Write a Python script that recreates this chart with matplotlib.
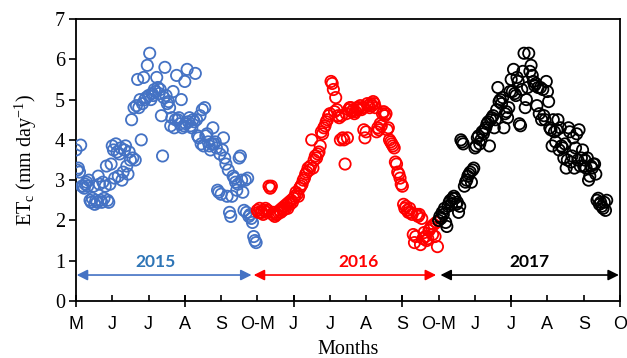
import matplotlib
matplotlib.use("Agg")
import matplotlib.pyplot as plt
import numpy as np
import pandas as pd

plt.rcParams['mathtext.fontset'] = 'custom'
plt.rcParams['mathtext.rm'] = 'Liberation Serif'
plt.rcParams['mathtext.it'] = 'Liberation Serif:italic'

# daily crop ET (mm/day), May 1 onward, one list per season
et_2015 = [
    # May
    3.75, 3.25, 3.3, 3.2, 3.87, 2.85, 2.85, 2.8, 2.9, 2.95, 2.85, 3.0, 2.5, 2.45, 2.55, 2.85,
    2.4, 2.5, 2.45, 3.1, 2.9, 2.5, 2.45, 2.95, 2.55, 2.85, 3.35, 2.5, 2.45, 2.9, 3.4,
    # Jun
    3.85, 3.75, 3.05, 3.9, 3.7, 3.1, 3.65, 3.8, 3.0, 3.2, 3.75, 3.85, 3.35, 3.15, 3.7,
    3.5, 4.5, 3.55, 4.8, 3.5, 4.85, 5.5, 4.8, 5.0, 4.0, 4.9, 5.55, 5.0, 5.05, 5.85,
    # Jul
    5.1, 6.15, 5.0, 5.15, 5.1, 5.25, 5.2, 5.55, 5.3, 5.15, 5.25, 4.6, 3.6, 5.05, 5.8, 5.1,
    4.9, 4.95, 4.8, 4.35, 4.55, 5.2, 4.3, 4.5, 5.6, 4.5, 4.55, 4.4, 5.0, 4.3, 4.35,
    # Aug
    5.45, 4.4, 5.75, 4.45, 4.55, 4.35, 4.3, 4.5, 4.45, 5.65, 4.5, 4.1, 4.05, 4.6, 3.9, 4.75,
    3.85, 4.8, 4.1, 4.15, 3.95, 3.85, 3.75, 3.9, 4.3, 3.9, 3.95, 3.8, 2.75, 2.7, 3.65,
    # Sep
    2.65, 3.75, 4.05, 3.55, 3.4, 2.6, 3.25, 2.2, 2.1, 2.6, 3.1, 3.05, 2.95, 2.75, 2.9,
    3.55, 3.6, 3.0, 2.7, 2.25, 3.0, 2.2, 3.05, 2.1, 2.15, 2.05, 1.95, 1.6, 1.5, 1.45,
]
et_2016 = [
    # May
    2.25, 2.2, 2.3, 2.2, 2.2, 2.15, 2.25, 2.3, 2.2, 2.25, 2.85, 2.8, 2.85, 2.15, 2.2, 2.1,
    2.15, 2.15, 2.2, 2.25, 2.2, 2.3, 2.25, 2.35, 2.3, 2.4, 2.3, 2.45, 2.4, 2.5, 2.45,
    # Jun
    2.55, 2.6, 2.7, 2.65, 2.6, 2.8, 2.85, 2.9, 3.0, 3.05, 3.15, 3.2, 3.3, 3.25, 3.35,
    4.0, 3.3, 3.5, 3.6, 3.55, 3.65, 3.7, 3.85, 4.2, 4.15, 4.3, 4.35, 4.45, 4.5, 4.6,
    # Jul
    4.65, 5.45, 5.4, 5.25, 4.7, 5.05, 4.75, 4.6, 4.55, 4.0, 4.6, 4.05, 4.0, 3.4, 4.65, 4.05,
    4.75, 4.8, 4.8, 4.7, 4.75, 4.65, 4.7, 4.8, 4.75, 4.8, 4.85, 4.75, 4.8, 4.25, 4.05,
    # Aug
    4.2, 4.9, 4.85, 4.8, 4.9, 4.85, 4.95, 4.9, 4.8, 4.2, 4.3, 4.25, 4.4, 4.35, 4.65, 4.7,
    4.6, 4.65, 4.25, 4.3, 4.0, 3.95, 3.9, 3.85, 3.8, 3.45, 3.4, 3.2, 3.15, 3.05, 2.9,
    # Sep
    2.85, 2.4, 2.3, 2.35, 2.25, 2.2, 2.3, 2.2, 2.15, 1.65, 1.45, 1.6, 2.15, 2.1, 2.15,
    1.4, 2.05, 1.55, 1.7, 1.6, 1.5, 1.55, 1.75, 1.8, 1.85, 1.65, 1.9, 1.6, 1.95, 1.35,
]
et_2017 = [
    # May
    2.0, 2.1, 2.05, 2.2, 2.15, 2.3, 1.95, 1.85, 2.35, 2.45, 2.5, 2.4, 2.55, 2.6, 2.55, 2.4,
    2.45, 2.2, 2.35, 4.0, 3.95, 3.9, 2.85, 2.95, 3.0, 3.1, 3.15, 3.2, 2.95, 3.25, 3.3,
    # Jun
    3.8, 3.85, 4.05, 4.1, 3.9, 4.0, 4.2, 4.15, 4.25, 4.3, 4.4, 4.45, 3.85, 4.5, 4.55,
    4.6, 4.3, 4.5, 4.75, 5.3, 4.95, 5.0, 4.9, 5.05, 4.3, 4.65, 4.7, 4.55, 4.8, 5.2,
    # Jul
    5.5, 5.2, 5.75, 5.15, 5.1, 5.55, 5.45, 4.4, 4.35, 5.25, 5.7, 6.15, 4.8, 5.0, 5.3, 6.15,
    5.7, 5.85, 5.6, 5.45, 5.35, 5.4, 4.85, 5.3, 4.65, 5.3, 4.5, 5.25, 4.6, 4.5, 5.45,
    # Aug
    5.2, 4.95, 4.3, 4.25, 3.85, 4.5, 4.2, 3.95, 4.25, 4.5, 3.75, 4.3, 3.85, 3.8, 3.55, 3.9,
    3.3, 3.5, 4.3, 4.2, 3.45, 3.6, 4.05, 3.3, 3.8, 4.15, 3.5, 4.25, 3.35, 3.55, 3.75,
    # Sep
    3.35, 3.5, 3.3, 3.55, 3.0, 3.1, 3.35, 3.3, 3.4, 3.4, 3.15, 2.5, 2.55, 2.4, 2.45,
    2.35, 2.3, 2.45, 2.25, 2.5,
]

seasons = [(2015, et_2015, '#4472C4'), (2016, et_2016, '#FF0000'), (2017, et_2017, '#000000')]
month_labels = ['M', 'J', 'J', 'A', 'S', 'O-M', 'J', 'J', 'A', 'S', 'O-M', 'J', 'J', 'A', 'S', 'O']
year_labels = ['2015', '2016', '2017']
year_text_colors = ['#2E75B6', '#FF0000', '#000000']


def month_pos(year, n):
    # each season (May-Sep) takes 5 month slots on the axis
    d = pd.date_range(f'{year}-05-01', periods=n, freq='D')
    return ((year - 2015) * 5 + (d.month - 5) + (d.day - 1) / d.days_in_month).to_numpy()


fig = plt.figure(figsize=(6.27, 3.58), dpi=100)
ax = fig.add_axes([0.1212, 0.1592, 0.8676, 0.7877])

for year, et, col in seasons:
    ax.scatter(month_pos(year, len(et)), et, s=66, facecolors='none',
               edgecolors=col, linewidths=1.3, zorder=3)

# season arrows
arrow_y = 0.645
spans = [(0.02, 4.84), (4.9, 9.93), (10.05, 14.97)]
text_x = [2.2, 7.8, 12.5]
arrow_cols = ['#4472C4', '#FF0000', '#000000']
for (x0, x1), tx, lab, ac, tc in zip(spans, text_x, year_labels, arrow_cols, year_text_colors):
    ax.annotate('', xy=(x0, arrow_y), xytext=(x1, arrow_y),
                arrowprops=dict(arrowstyle='<|-|>', color=ac, lw=1.2,
                                mutation_scale=16, shrinkA=0, shrinkB=0))
    ax.text(tx, arrow_y + 0.12, lab, color=tc, fontsize=12.5, fontweight='bold',
            family='Lato', ha='center', va='bottom')

ax.set_xlim(0, 15)
ax.set_ylim(0, 7)
ax.set_xticks(np.arange(16))
ax.set_xticklabels(month_labels, family='Liberation Sans', fontsize=13)
ax.set_xticks(np.arange(0, 16, 3), minor=True)
ax.xaxis.remove_overlapping_locs = False
ax.tick_params(axis='x', which='major', direction='in', length=4, width=1.2, pad=10.5)
ax.tick_params(axis='x', which='minor', direction='inout', length=9, width=1.2)
ax.set_yticks(range(8))
ax.set_yticklabels([str(v) for v in range(8)], family='Liberation Serif', fontsize=14.5)
ax.tick_params(axis='y', direction='out', length=5, width=1.2, pad=3)
ax.tick_params(top=False, right=False)

for sp in ax.spines.values():
    sp.set_linewidth(1.3)

ax.set_xlabel('Months', family='Liberation Serif', fontsize=14.5, labelpad=5)
ax.set_ylabel('ET$_\\mathrm{c}$ (mm day$^{-1}$)', family='Liberation Serif', fontsize=14.5, labelpad=11)

fig.savefig('out.png', dpi=100)
